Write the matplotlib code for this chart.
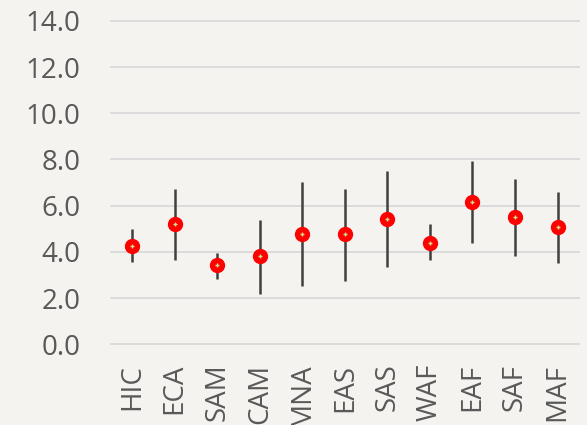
import matplotlib
matplotlib.use("Agg")
import matplotlib.pyplot as plt
import numpy as np

categories = ["HIC", "ECA", "SAM", "CAM", "MNA", "EAS", "SAS", "WAF", "EAF", "SAF", "MAF"]
means = [4.25, 5.20, 3.42, 3.81, 4.79, 4.76, 5.44, 4.40, 6.17, 5.51, 5.06]
upper = [4.97, 6.73, 3.96, 5.39, 7.01, 6.71, 7.51, 5.19, 7.93, 7.15, 6.58]
lower = [3.56, 3.63, 2.84, 2.19, 2.52, 2.75, 3.33, 3.63, 4.40, 3.83, 3.52]
yticks = [0, 2, 4, 6, 8, 10, 12, 14]

plt.rcParams["font.family"] = ["Open Sans", "DejaVu Sans"]

bg = "#f4f3ef"
fig = plt.figure(figsize=(5.87, 4.25), dpi=100, facecolor=bg)
ax = fig.add_axes([0.189, 0.19, 0.797, 0.761], facecolor=bg)

x = np.arange(len(categories))
ax.vlines(x, lower, upper, color="#404040", linewidth=1.8, zorder=3)
ax.plot(x, means, linestyle="none", marker="o", markersize=10,
        markerfacecolor="#ff0000", markeredgecolor="#ff0000", zorder=4)
ax.plot(x, means, linestyle="none", marker="+", markersize=3.5,
        markeredgecolor="#c8e08a", markeredgewidth=1.0, zorder=5)

ax.set_xlim(-0.5, len(categories) - 0.5)
ax.set_ylim(0, 14)
ax.set_yticks(yticks)
ax.set_xticks(x)

for v in yticks:
    ax.axhline(v, color="#d9d9d9", linewidth=1.3, zorder=1, clip_on=False)

for s in ax.spines.values():
    s.set_visible(False)
ax.yaxis.set_tick_params(length=0, pad=22)
ax.xaxis.set_tick_params(length=0, pad=14)
ax.set_yticklabels([f"{v:.1f}" for v in yticks], fontsize=20, color="#595959")
ax.set_xticklabels(categories, rotation=90, va="top", ha="center",
                   fontsize=20, color="#595959")

fig.savefig("out.png", dpi=100, facecolor=bg)
